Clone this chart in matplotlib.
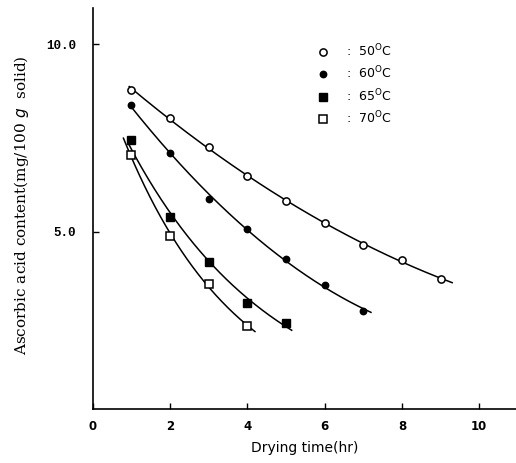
import numpy as np
import matplotlib
matplotlib.use("Agg")
import matplotlib.pyplot as plt
from matplotlib.lines import Line2D

# ---- data ----
labels = ["50", "60", "65", "70"]
t50 = [1, 2, 3, 4, 5, 6, 7, 8, 9]
c50 = [8.78, 8.04, 7.27, 6.49, 5.82, 5.23, 4.65, 4.26, 3.76]
t60 = [1, 2, 3, 4, 5, 6, 7]
c60 = [8.37, 7.11, 5.89, 5.09, 4.28, 3.59, 2.90]
t65 = [1, 2, 3, 4, 5]
c65 = [7.45, 5.39, 4.21, 3.10, 2.59]
t70 = [1, 2, 3, 4]
c70 = [7.04, 4.89, 3.61, 2.50]
# fitted-curve spans (hr) and fit type
curve_start = [0.95, 0.95, 0.95, 0.8]
curve_end = [9.3, 7.2, 5.15, 4.2]
fit_kind = ["poly2", "poly2", "exp", "exp"]
xticks = [0, 2, 4, 6, 8, 10]
yticks = [5.0, 10.0]

series = [(t50, c50), (t60, c60), (t65, c65), (t70, c70)]
styles = [
    dict(marker="o", mfc="white", mec="black", ms=5.2, mew=1.1),
    dict(marker="o", mfc="black", mec="black", ms=4.6, mew=1.0),
    dict(marker="s", mfc="black", mec="black", ms=5.6, mew=1.0),
    dict(marker="s", mfc="white", mec="black", ms=5.6, mew=1.1),
]


def make_fit(t, c, kind):
    t = np.asarray(t, float)
    c = np.asarray(c, float)
    if kind == "poly2":
        p = np.polyfit(t, c, 2)
        return lambda x: np.polyval(p, x)
    p = np.polyfit(t, np.log(c), 1)
    return lambda x: np.exp(np.polyval(p, x))


fig = plt.figure(figsize=(5.16, 4.63), dpi=100)
ax = fig.add_axes([92.5 / 516, 54 / 463, 1 - 92.5 / 516, (409 - 8) / 463])

for (t, c), st, s0, s1, kind in zip(series, styles, curve_start, curve_end, fit_kind):
    f = make_fit(t, c, kind)
    tt = np.linspace(s0, s1, 200)
    ax.plot(tt, f(tt), color="black", lw=1.1, zorder=2)
    ax.plot(t, c, linestyle="none", zorder=3, **st)

ax.set_xlim(0, 10.95)
ax.set_ylim(0.29, 10.96)
for side in ["top", "right"]:
    ax.spines[side].set_visible(False)
for side in ["left", "bottom"]:
    ax.spines[side].set_linewidth(1.2)

ax.set_xticks(xticks)
ax.set_xticklabels([str(v) for v in xticks], fontsize=8.5, fontweight="bold",
                   family="DejaVu Sans")
ax.set_yticks(yticks)
ax.set_yticklabels(["%.1f" % v for v in yticks], fontsize=9,
                   family="Liberation Mono", fontweight="bold")
ax.tick_params(direction="in", length=4, width=1)
ax.tick_params(axis="x", pad=8)
ax.tick_params(axis="y", pad=12)

ax.set_xlabel("Drying time(hr)", fontsize=10, family="DejaVu Sans", labelpad=6)
fig.text(22 / 516, 1 - 205 / 463, "Ascorbic acid content(mg/100 $\\mathit{g}$  solid)",
         rotation=90, ha="center", va="center", fontsize=11, family="DejaVu Serif")

handles = [Line2D([], [], linestyle="none", **st) for st in styles]
leg = ax.legend(handles, [":  %s$^{\\mathrm{O}}$C" % l for l in labels],
                loc="upper left", bbox_to_anchor=(0.489, 0.941), frameon=False,
                handletextpad=0.85, labelspacing=0.45, prop=dict(family="DejaVu Sans", size=9))

fig.savefig("out.png", dpi=100)
